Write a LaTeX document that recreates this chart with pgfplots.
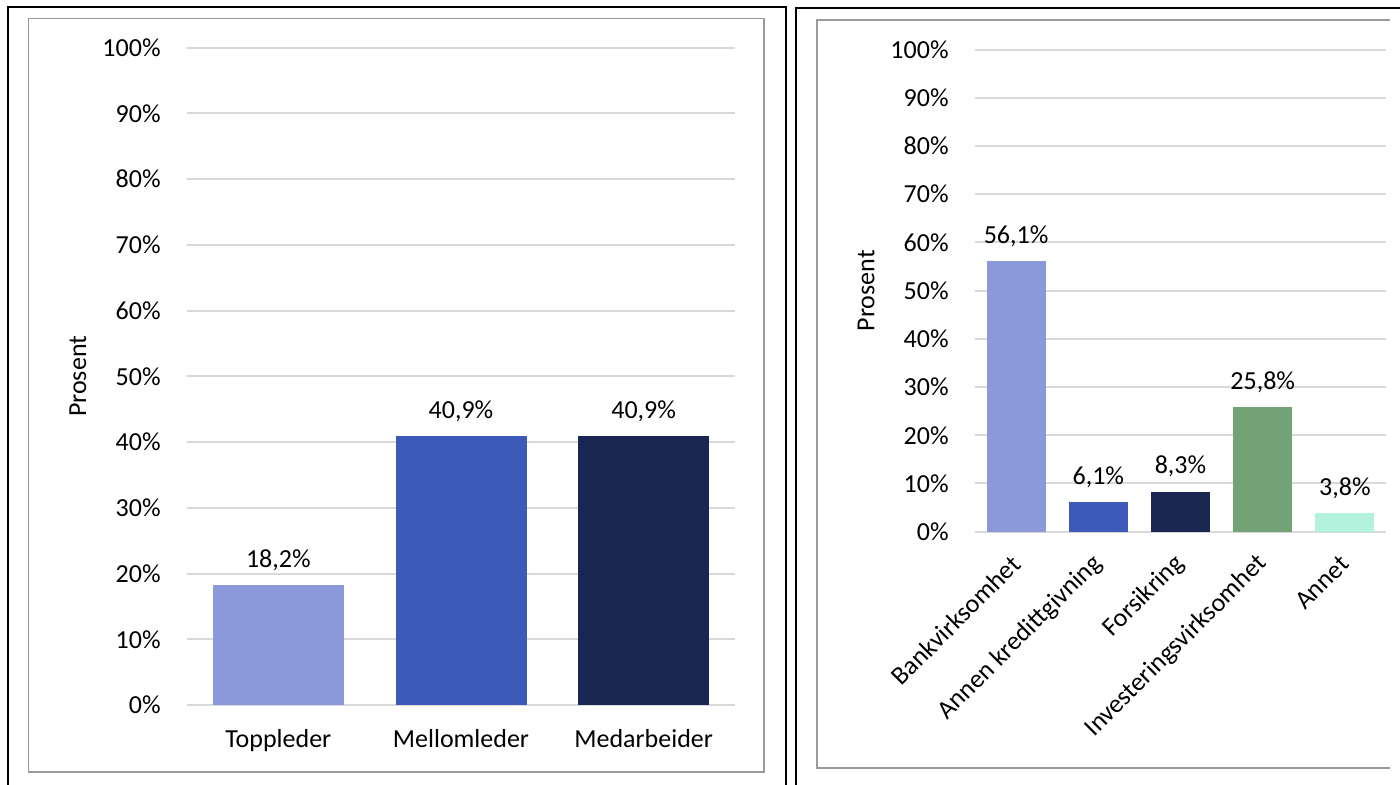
\documentclass[border=0pt]{standalone}
\usepackage{fontspec}
\setmainfont{Carlito}
\usepackage{pgfplots}
\pgfplotsset{compat=1.18}

\definecolor{c1}{HTML}{8B98DA}
\definecolor{c2}{HTML}{3D5AB8}
\definecolor{c3}{HTML}{1A2751}
\definecolor{c4}{HTML}{72A276}
\definecolor{c5}{HTML}{B3F2DC}
\definecolor{gridgray}{HTML}{D9D9D9}
\definecolor{framegray}{HTML}{9A9A9A}

\newcommand{\lblfont}{\fontsize{13}{15}\selectfont}

\pgfplotsset{
  /pgf/number format/assume math mode=true,
  prosent/.style={
    ybar, scale only axis, clip=false,
    ymin=0, ymax=100, ytick={0,10,...,100},
    yticklabel={\pgfmathprintnumber{\tick}\%},
    ymajorgrids, grid style={draw=gridgray, line width=1pt},
    axis line style={draw=none}, major tick length=0pt,
    tick label style={font=\lblfont, inner sep=0pt},
    yticklabel shift=13pt,
    ylabel={Prosent}, label style={font=\lblfont, inner sep=0pt},
    nodes near coords={\pgfmathprintnumber[fixed,fixed zerofill,precision=1,use comma]{\pgfplotspointmeta}\%},
    nodes near coords style={font=\lblfont, anchor=base, yshift=9pt, inner sep=0pt},
  },
}

\begin{document}
\begin{tikzpicture}
\useasboundingbox (0pt,0pt) rectangle (700pt,392pt);
\clip (0pt,0pt) rectangle (700pt,392pt);

% frames
\draw[black, line width=1pt] (4pt,-5pt) -- (4pt,388.4pt) -- (392.75pt,388.4pt) -- (392.75pt,-5pt);
\draw[framegray, line width=0.8pt] (14.25pt,6.15pt) rectangle (382pt,382.75pt);
\draw[black, line width=1pt] (398pt,-5pt) -- (398pt,387.85pt) -- (705pt,387.85pt);
\draw[framegray, line width=0.8pt] (695pt,382pt) -- (408.35pt,382pt) -- (408.35pt,8.15pt) -- (695pt,8.15pt);

% left: by role
\begin{axis}[prosent,
  at={(93.5pt,39.5pt)}, anchor=south west,
  width=274pt, height=328.65pt,
  xmin=-0.5, xmax=2.5,
  xtick={0,1,2},
  xticklabels={Toppleder, Mellomleder, Medarbeider},
  xticklabel style={anchor=base, yshift=-21pt},
  bar width=65.5pt,
  ylabel style={at={(axis description cs:-0.199,0.5)}, anchor=center},
]
\addplot[fill=c1, draw=none, bar shift=0pt] coordinates {(0,18.2)};
\addplot[fill=c2, draw=none, bar shift=0pt] coordinates {(1,40.9)};
\addplot[fill=c3, draw=none, bar shift=0pt] coordinates {(2,40.9)};
\end{axis}

% right: by sector
\begin{axis}[prosent,
  at={(487.5pt,126.15pt)}, anchor=south west,
  width=205.5pt, height=241.1pt,
  xmin=-0.5, xmax=4.5,
  xtick={0,1,2,3,4},
  xticklabels={Bankvirksomhet, Annen kredittgivning, Forsikring, Investeringsvirksomhet, Annet},
  xticklabel style={rotate=45, anchor=east},
  xticklabel shift=14pt,
  bar width=29.5pt,
  ylabel style={at={(axis description cs:-0.265,0.5)}, anchor=center},
]
\addplot[fill=c1, draw=none, bar shift=0pt] coordinates {(0,56.1)};
\addplot[fill=c2, draw=none, bar shift=0pt] coordinates {(1,6.1)};
\addplot[fill=c3, draw=none, bar shift=0pt] coordinates {(2,8.3)};
\addplot[fill=c4, draw=none, bar shift=0pt] coordinates {(3,25.8)};
\addplot[fill=c5, draw=none, bar shift=0pt] coordinates {(4,3.8)};
\end{axis}
\end{tikzpicture}
\end{document}
